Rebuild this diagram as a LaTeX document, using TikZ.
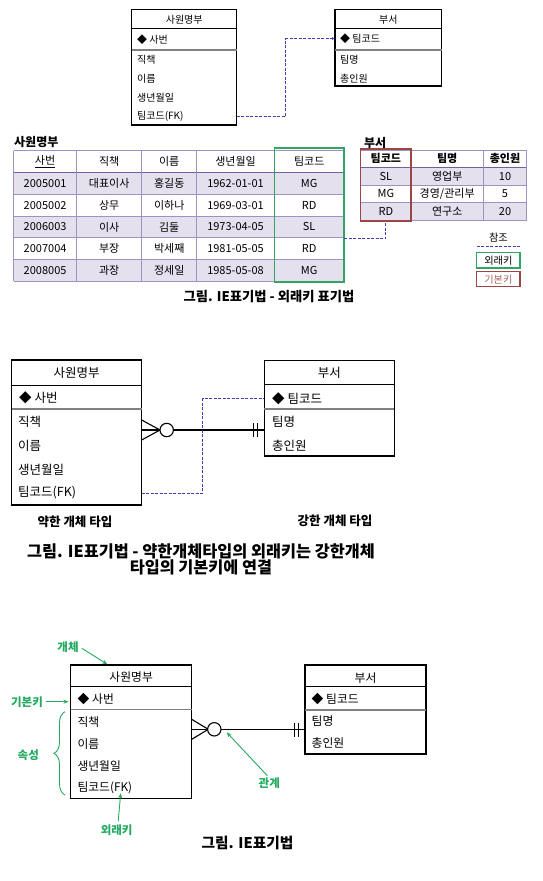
\documentclass[tikz,border=0pt]{standalone}
\usepackage{fontspec}
\setmainfont{Noto Sans CJK KR}
\usetikzlibrary{arrows.meta,decorations.pathreplacing}
\definecolor{fkblue}{RGB}{70,60,180}
\definecolor{tline}{RGB}{160,145,195}
\definecolor{tdark}{RGB}{115,95,155}
\definecolor{tfill}{RGB}{229,224,238}
\definecolor{keygreen}{RGB}{50,165,100}
\definecolor{keyred}{RGB}{155,70,70}
\definecolor{annot}{RGB}{35,170,95}
\begin{document}
\begin{tikzpicture}[x=1pt,y=-1pt,
 ent/.style={draw,line width=1.1pt,anchor=north west,inner sep=0,outer sep=0},
 ta/.style={inner sep=0,anchor=west,font=\fontsize{10}{11}\selectfont},
 tah/.style={inner sep=0,font=\fontsize{10}{11}\selectfont},
 tb/.style={inner sep=0,anchor=west,font=\fontsize{12.5}{14}\selectfont},
 tbh/.style={inner sep=0,font=\fontsize{12.5}{14}\selectfont},
 tc/.style={inner sep=0,anchor=west,font=\fontsize{11.8}{13}\selectfont},
 tch/.style={inner sep=0,font=\fontsize{11.8}{13}\selectfont},
 hline/.style={line width=1pt},
 sline/.style={gray,line width=1.4pt},
 fkline/.style={fkblue,line width=0.9pt,dash pattern=on 3pt off 1.5pt},
 rel/.style={line width=1.1pt},
 cell/.style={inner sep=0,font=\fontsize{11}{12}\selectfont},
 cellb/.style={inner sep=0,font=\bfseries\fontsize{11}{12}\selectfont},
 ttl/.style={inner sep=0,anchor=west,font=\bfseries\fontsize{12}{13}\selectfont},
 ann/.style={inner sep=0,text=annot,font=\bfseries\fontsize{11.5}{13}\selectfont},
 annarr/.style={annot,line width=0.9pt,-{Stealth[length=5pt,width=4pt]}},
 capt/.style={inner sep=0,font=\bfseries\fontsize{13.3}{15}\selectfont},
 sub/.style={inner sep=0,font=\bfseries\fontsize{12.5}{14}\selectfont},
]
\useasboundingbox (0,0) rectangle (542,881);

% ================= TOP ER =================
\node[ent,minimum width=105pt,minimum height=115.7pt] (A1) at (131.7,9.3) {};
\draw[hline] (131.7,28.3) -- (236.7,28.3);
\draw[sline] (131.7,50) -- (236.7,50);
\node[tah] (a1h) at (184.2,19.3) {사원명부};
\node[ta] (a1pk) at (137,39.3) {◆ 사번};
\node[ta] (a1r1) at (137,59.3) {직책};
\node[ta] (a1r2) at (137,78.3) {이름};
\node[ta] (a1r3) at (137,97.3) {생년월일};
\node[ta] (a1fk) at (137,116) {팀코드(FK)};

\node[ent,minimum width=106.7pt,minimum height=76.7pt] (B1) at (335,9.3) {};
\draw[hline] (335,28.3) -- (441.7,28.3);
\draw[sline] (335,50) -- (441.7,50);
\node[tah] (b1h) at (388.3,19.3) {부서};
\node[ta] (b1pk) at (340,38.5) {◆ 팀코드};
\node[ta] (b1r1) at (340,59.3) {팀명};
\node[ta] (b1r2) at (340,78.3) {총인원};

\coordinate (m1) at (285.7,0);
\draw[fkline,-{Latex[length=3pt,width=3pt]}] (A1.east |- a1fk) -| (m1 |- b1pk) -- (B1.west |- b1pk);

% ================= TABLES =================
\node[ttl] (t1) at (14,142) {사원명부};
\foreach \ya/\yb in {172.3/194.3,216/237.7,259.5/281.3} \fill[tfill] (13.5,\ya) rectangle (344,\yb);
\foreach \y in {150.7,194.3,216,237.7,259.5,281.3} \draw[tline,line width=0.9pt] (13.5,\y) -- (344,\y);
\draw[tdark,line width=1.3pt] (13.5,172.3) -- (344,172.3);
\foreach \x in {13.5,76.7,141.7,196.7,274.3,344} \draw[tline,line width=0.9pt] (\x,150.7) -- (\x,281.3);
\node[cell] (eh1) at (45.1,161.5) {\underline{사번}};
\node[cell] (eh2) at (109.2,161.5) {직책};
\node[cell] (eh3) at (169.2,161.5) {이름};
\node[cell] (eh4) at (235.5,161.5) {생년월일};
\node[cell] (eh5) at (309.2,161.5) {팀코드};
\foreach \y/\a/\b/\c/\d/\e [count=\r] in {183.3/2005001/대표이사/홍길동/1962-01-01/MG,
  205.2/2005002/상무/이하나/1969-03-01/RD,
  226.9/2006003/이사/김둘/1973-04-05/SL,
  248.6/2007004/부장/박세째/1981-05-05/RD,
  270.4/2008005/과장/정세일/1985-05-08/MG}{
  \node[cell] (e\r a) at (45.1,\y) {\a};
  \node[cell] (e\r b) at (109.2,\y) {\b};
  \node[cell] (e\r c) at (169.2,\y) {\c};
  \node[cell] (e\r d) at (235.5,\y) {\d};
  \node[cell] (e\r e) at (309.2,\y) {\e};
}
\node[draw=keygreen,line width=1.4pt,minimum width=69.7pt,minimum height=134pt,inner sep=0] (fkcol) at (309.2,215) {};

\node[ttl] (t2) at (364,142.6) {부서};
\foreach \ya/\yb in {167.5/185,202.5/220} \fill[tfill] (360.7,\ya) rectangle (526.7,\yb);
\foreach \y in {150,185,202.5,220} \draw[tline,line width=0.9pt] (360.7,\y) -- (526.7,\y);
\draw[tdark,line width=1.3pt] (360.7,167.5) -- (526.7,167.5);
\foreach \x in {360.7,411,483.3,526.7} \draw[tline,line width=0.9pt] (\x,150) -- (\x,220);
\node[cellb] (dh1) at (385.9,158.8) {팀코드};
\node[cellb] (dh2) at (447.2,158.8) {팀명};
\node[cellb] (dh3) at (505,158.8) {총인원};
\foreach \y/\a/\b/\c [count=\r] in {176.3/SL/영업부/10,193.8/MG/{경영/관리부}/5,211.3/RD/연구소/20}{
  \node[cell] (d\r a) at (385.9,\y) {\a};
  \node[cell] (d\r b) at (447.2,\y) {\b};
  \node[cell] (d\r c) at (505,\y) {\c};
}
\node[draw=keyred,line width=1.4pt,minimum width=50.3pt,minimum height=72pt,inner sep=0] (pkcol) at (385.9,185) {};

\coordinate (fkout) at (344,238.3);
\draw[fkline] (fkout) -| (pkcol.south);

% legend
\node[inner sep=0,font=\fontsize{10.2}{11}\selectfont] (lgref) at (498.4,238) {참조};
\coordinate (lga) at (476.7,246.7);
\coordinate (lgb) at (520,246.7);
\draw[fkline] (lga) -- (lgb);
\node[draw=keygreen,line width=1.3pt,minimum width=43.3pt,minimum height=15.3pt,inner sep=0,font=\fontsize{10.2}{11}\selectfont] (lgfk) at (498.4,260.4) {외래키};
\node[draw=keyred,line width=1.3pt,minimum width=43.3pt,minimum height=15pt,inner sep=0,text=keyred!85,font=\fontsize{10.2}{11}\selectfont] (lgpk) at (498.4,279.2) {기본키};

\node[capt] (cap1) at (269,297) {그림. IE표기법 - 외래키 표기법};

% ================= MIDDLE ER =================
\node[ent,minimum width=130pt,minimum height=145pt] (A2) at (11.7,360) {};
\draw[hline] (11.7,385.5) -- (141.7,385.5);
\draw[sline] (11.7,409) -- (141.7,409);
\node[tbh] (a2h) at (76.7,373) {사원명부};
\node[tb] (a2pk) at (19,398) {◆ 사번};
\node[tb] (a2r1) at (18,421.7) {직책};
\node[tb] (a2r2) at (18,446) {이름};
\node[tb] (a2r3) at (18,470) {생년월일};
\node[tb] (a2fk) at (18,493) {팀코드(FK)};

\node[ent,minimum width=130pt,minimum height=95.3pt] (B2) at (264.3,360.7) {};
\draw[hline] (264.3,384.5) -- (394.3,384.5);
\draw[sline] (264.3,409) -- (394.3,409);
\node[tbh] (b2h) at (329.3,373) {부서};
\node[tb] (b2pk) at (272,398.5) {◆ 팀코드};
\node[tb] (b2r1) at (272,421.7) {팀명};
\node[tb] (b2r2) at (272,446) {총인원};

\coordinate (r2) at (0,430);
\draw[rel] (A2.east |- r2) -- (B2.west |- r2);
\draw[rel] (141.7,420) -- (160,430) -- (141.7,440);
\node[circle,draw,line width=1.1pt,fill=white,minimum size=13.4pt,inner sep=0] (c2) at (166.7,430) {};
\draw[rel] (253.3,423.3) -- (253.3,436.7);
\draw[rel] (257.7,423.3) -- (257.7,436.7);

\coordinate (m2) at (202.7,0);
\draw[fkline] (A2.east |- a2fk) -| (m2 |- b2pk) -- (B2.west |- b2pk);

\node[sub] (weak) at (75,521.5) {약한 개체 타입};
\node[sub] (strong) at (335,521) {강한 개체 타입};
\node[capt,font=\bfseries\fontsize{16.3}{16}\selectfont,align=center] (cap2) at (201,559) {그림. IE표기법 - 약한개체타입의 외래키는 강한개체\\타입의 기본키에 연결};

% ================= BOTTOM ER =================
\node[ent,minimum width=121pt,minimum height=133.3pt] (A3) at (70.7,665) {};
\draw[hline] (70.7,686.7) -- (191.7,686.7);
\draw[sline] (70.7,709.5) -- (191.7,709.5);
\node[tch] (a3h) at (131.2,676.7) {사원명부};
\node[tc] (a3pk) at (77.5,699.5) {◆ 사번};
\node[tc] (a3r1) at (77.3,721.7) {직책};
\node[tc] (a3r2) at (77.3,744) {이름};
\node[tc] (a3r3) at (77.3,766) {생년월일};
\node[tc] (a3fk) at (77.3,788) {팀코드(FK)};

\node[ent,minimum width=121pt,minimum height=89pt] (B3) at (305,665) {};
\draw[hline] (305,686.7) -- (426,686.7);
\draw[sline] (305,710) -- (426,710);
\node[tch] (b3h) at (365.5,677.7) {부서};
\node[tc] (b3pk) at (311.5,699.3) {◆ 팀코드};
\node[tc] (b3r1) at (311.5,720.7) {팀명};
\node[tc] (b3r2) at (311.5,743.3) {총인원};

\coordinate (r3) at (0,729.3);
\draw[rel] (A3.east |- r3) -- (B3.west |- r3);
\draw[rel] (191.7,719.3) -- (208.3,729.3) -- (191.7,739.3);
\node[circle,draw,line width=1.1pt,fill=white,minimum size=13.4pt,inner sep=0] (c3) at (214.3,729.3) {};
\draw[rel] (294.3,723) -- (294.3,736.7);
\draw[rel] (298.3,723) -- (298.3,736.7);

% annotations
\node[ann] (lbEnt) at (68,646.7) {개체};
\coordinate (entTip) at (107.3,664.3);
\draw[annarr] (lbEnt.east) ++(3,1.5) -- (entTip);
\node[ann] (lbPk) at (27,701.7) {기본키};
\coordinate (pkTip) at (68.5,701.7);
\draw[annarr] (lbPk.east) ++(3,0) -- (pkTip);
\node[ann] (lbAttr) at (28.3,755) {속성};
\draw[annot,line width=0.9pt,decorate,decoration={brace,amplitude=11pt}] (65,795) -- (65,711.7);
\node[ann] (lbFk) at (116.7,830) {외래키};
\coordinate (fkTip) at (120.7,793.3);
\draw[annarr] (lbFk.north) ++(1.5,-3) -- (fkTip);
\node[ann] (lbRel) at (269.3,783.3) {관계};
\coordinate (relTip) at (226.7,732.3);
\draw[annarr] (lbRel.north) ++(-2,-2) -- (relTip);

\node[capt,font=\bfseries\fontsize{14.7}{16}\selectfont] (cap3) at (247.5,843.3) {그림. IE표기법};
\end{tikzpicture}
\end{document}
